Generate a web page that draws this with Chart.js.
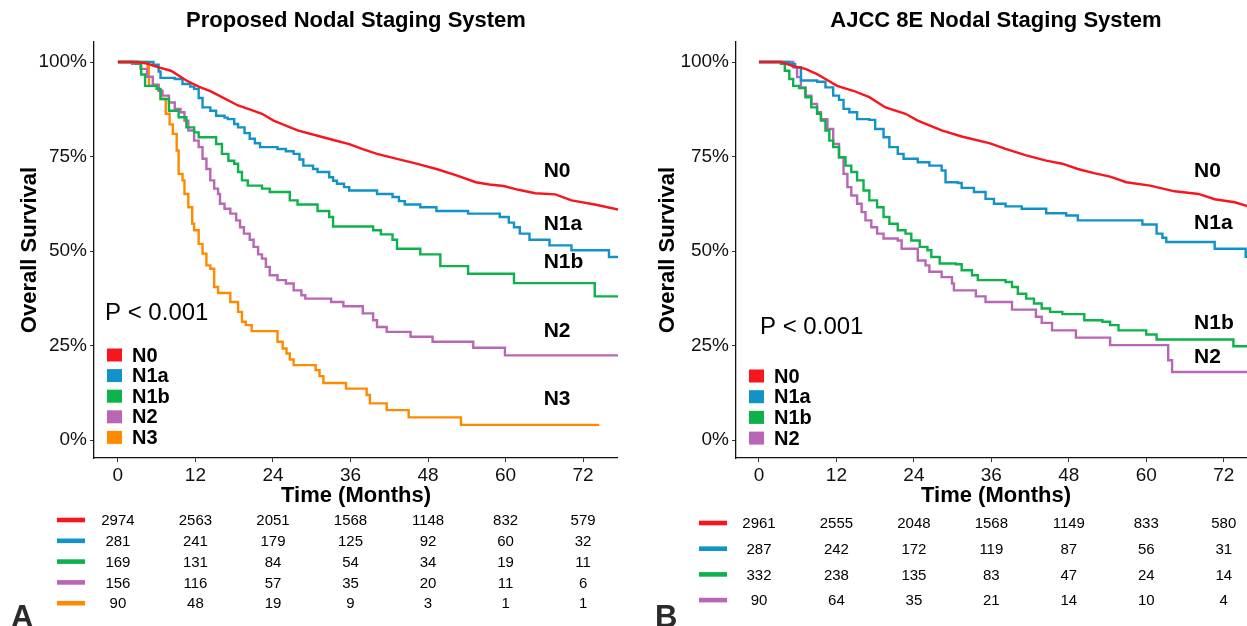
<!DOCTYPE html>
<html><head><meta charset="utf-8">
<script src="https://cdn.jsdelivr.net/npm/chart.js@4.4.1/dist/chart.umd.min.js"></script>
<style>
html,body{margin:0;padding:0;background:#fff;width:1247px;height:626px;overflow:hidden;position:relative;}
canvas{position:absolute;top:0;}
#cA{left:0px}
#cB{left:623px}
</style></head><body>
<canvas id="cA" width="618" height="626"></canvas>
<canvas id="cB" width="633" height="626"></canvas>
<script>
// ---------------- DATA ----------------
const xTicks = [0, 12, 24, 36, 48, 60, 72];
const yTicks = [0, 25, 50, 75, 100];
const groupsA = ['N0', 'N1a', 'N1b', 'N2', 'N3'];
const groupsB = ['N0', 'N1a', 'N1b', 'N2'];
const colors = ['#F8161E', '#1192C9', '#0DB24B', '#B966B5', '#FF8A00'];
const titleA = 'Proposed Nodal Staging System';
const titleB = 'AJCC 8E Nodal Staging System';
const pText = 'P < 0.001';

// Panel A survival curves: [months, survival %]
const A_N0 = [[0,100],[3,100],[4.5,99.6],[6.3,98.6],[8.2,97.7],[10.6,95.1],[12.5,93.5],[14.3,92.3],[16.1,90.7],[18.6,88.5],[20.5,87.4],[22.3,86.3],[24.1,84.5],[26,83.2],[27.8,81.9],[30.9,80.5],[33.5,79.3],[35.8,78.3],[38,76.9],[40.1,75.7],[43.2,74.4],[46.2,73.1],[49.3,71.7],[52.4,70.0],[55.4,68.2],[57.5,67.6],[59.7,67.2],[62,66.2],[64.6,65.3],[67.7,65.0],[70.2,63.4],[73.8,62.3],[77.7,60.9]];
const A_N1a = [[0,100],[5.5,99.3],[6.3,97.5],[6.6,95.8],[8.8,95.5],[10,94.2],[11.2,93.5],[11.8,92.9],[12.5,90.5],[13.1,88.0],[14.3,87.1],[15.2,85.8],[16.5,85.3],[17,84.9],[18,83.6],[18.6,82.7],[19.6,81.2],[20.4,79.7],[21.2,78.5],[22,77.5],[24.7,77.0],[26,76.4],[27.2,75.7],[28.1,74.2],[28.7,72.6],[30.2,71.7],[30.9,70.9],[32.7,69.5],[33.3,68.6],[33.9,67.8],[35,66.9],[35.8,66.0],[40.1,65.1],[42.5,64.3],[43.5,63.2],[44.4,62.3],[46.8,61.6],[49.3,60.6],[54.2,59.9],[59.1,59.0],[60.5,57.5],[61.3,56.3],[62.2,54.6],[63.7,53.0],[66.8,51.5],[70.2,50.2],[76,48.4],[77.7,48.4]];
const A_N1b = [[0,100],[2.8,99.5],[3.6,96.7],[4.2,93.7],[6.0,92.9],[6.6,90.2],[7.9,87.1],[9.4,85.4],[10.6,82.7],[11.8,81.4],[12.5,80.1],[15.2,78.3],[16.1,75.7],[17.1,73.9],[18,73.1],[18.6,70.9],[19.2,68.7],[20.1,67.3],[22.3,66.5],[23.5,65.6],[26.6,63.4],[27.8,62.3],[30.9,60.6],[32.7,59.0],[33.3,56.5],[39.5,55.5],[40.7,54.4],[42.5,53.0],[43.2,50.6],[46.8,49.1],[49.9,46.0],[54.2,44.0],[61.3,41.5],[73.8,38.0],[77.7,38.0]];
const A_N2 = [[0,100],[2.2,99.5],[3.5,98.2],[4.5,96.1],[5.4,94],[6.3,92.4],[6.9,91.1],[7.9,89.3],[8.8,87.6],[9.7,86.7],[10.3,84.5],[10.9,81.9],[11.8,79.2],[12.5,77.5],[13.1,74.4],[13.7,71.7],[14.3,68.7],[14.9,66.5],[15.5,65.1],[15.8,62.5],[16.5,61.2],[17.4,59.9],[18.3,58.1],[18.9,56.3],[19.5,54.6],[20.4,53.0],[21,51.1],[21.7,49.1],[22.3,48.0],[22.9,45.8],[23.5,43.6],[24.7,42.3],[26,41.4],[27.2,39.6],[28.4,38.3],[29,37.4],[33,36.5],[34.9,35.4],[37.9,33.5],[39.5,31.7],[40.1,29.9],[41.6,28.6],[45.3,27.3],[48.7,26.0],[55,24.4],[59.9,22.4],[77.7,22.4]];
const A_N3 = [[0,100],[4.6,98.6],[4.8,93.7],[6.3,92.4],[6.6,90.2],[7.4,86.3],[8.0,83.5],[8.5,81.0],[9.1,76.6],[9.4,70.4],[10,68.7],[10.3,65.1],[10.9,61.6],[11.5,57.2],[11.8,55.5],[12.5,51.9],[13.1,49.3],[13.7,46.2],[14.3,45.3],[14.9,40.5],[15.5,38.9],[17.4,36.5],[18.6,33.9],[19.2,31.3],[19.8,30.4],[20.7,28.8],[24.7,26.0],[25.5,24.2],[26.1,22.9],[26.6,21.3],[27.2,19.8],[30.6,18.5],[31.2,16.9],[31.8,15.1],[35.3,13.6],[38.5,11.9],[39,9.7],[41.6,7.9],[45,6.0],[53.1,4.0],[74.5,4.0]];

// Panel B survival curves
const B_N0 = [[0,100],[3.4,100],[5.3,98.9],[7.2,98.2],[9,96.8],[10.3,95.5],[12.1,93.7],[14.6,92.4],[17.1,90.7],[19.6,88.0],[22.7,86.3],[24.6,84.5],[28.3,81.9],[31.4,80.3],[35.8,78.5],[38.2,77.0],[41.4,75.3],[44.5,73.9],[47,73.1],[49.4,71.7],[51.9,70.6],[54.4,69.7],[56.9,68.2],[60.6,67.3],[64.4,65.8],[68.1,65.1],[70.6,63.7],[73.7,62.9],[77,61.2]];
const B_N1a = [[0,100],[4.7,99.5],[5.6,98.6],[6.5,95.1],[9,94.8],[10.3,93.3],[11.5,91.1],[12.4,90.0],[13.1,87.6],[14,86.7],[15.2,84.9],[17.1,84.7],[18,82.3],[19.3,80.1],[20.2,77.5],[21.5,75.7],[22.4,74.4],[24.6,73.5],[26.4,72.6],[28.3,71.3],[28.9,68.2],[30.8,68.0],[31.4,66.7],[33.3,65.6],[35.1,63.8],[36.4,62.5],[38.2,61.8],[40.7,61.2],[44.5,60.0],[47.6,59.4],[49.4,58.1],[59.4,57.0],[61.6,54.6],[62.5,53.5],[63.1,52.4],[70.6,50.6],[75.4,48.5],[77,48.5]];
const B_N1b = [[0,100],[2.2,100],[3.4,99.5],[4,97.7],[4.7,95.5],[5.3,93.7],[6.2,93.1],[7.2,90.7],[8.1,88.0],[9,86.3],[9.6,84.5],[10.3,81.9],[10.9,79.2],[11.5,77.5],[12.4,74.8],[13.4,72.6],[14.3,70.9],[15.2,68.7],[16.2,66.0],[17.1,63.4],[18.3,61.6],[19.3,59.0],[20.2,57.2],[21.5,55.5],[22.7,54.6],[23.6,52.8],[24.9,51.1],[26.1,50.2],[26.7,48.4],[28,46.7],[30.5,46.5],[31.4,44.9],[33,43.6],[33.9,42.3],[38.2,41.8],[39.2,40.5],[40.1,38.7],[41.4,37.4],[42.6,36.1],[43.8,34.8],[45.1,33.9],[47,33.3],[50.4,31.7],[53.2,31.3],[54.4,30.4],[55.7,29.0],[60,27.9],[61.6,26.6],[73.5,24.8],[77,24.8]];
const B_N2 = [[0,100],[5.3,98.6],[5.9,96.0],[6.5,93.3],[7.2,91.1],[8.1,88.9],[9,86.7],[9.6,84.9],[10.6,82.3],[11.5,78.3],[12.4,74.8],[13.1,70.4],[13.7,66.9],[14.3,64.7],[15.2,62.5],[15.9,60.3],[16.5,58.1],[17.4,56.3],[18.3,54.6],[19.3,53.3],[21.5,52.8],[22.1,50.6],[24.6,47.5],[25.8,46.2],[26.4,44.5],[28.3,43.1],[29.9,41.4],[30.2,39.6],[33.6,38.0],[35.1,36.5],[39.2,34.5],[42.9,32.6],[43.8,31.0],[45.4,29.0],[49.1,27.1],[54.4,25.1],[63.4,21.1],[64,18.0],[77,18.0]];

// Numbers at risk
const riskA_N0 = [2974, 2563, 2051, 1568, 1148, 832, 579];
const riskA_N1a = [281, 241, 179, 125, 92, 60, 32];
const riskA_N1b = [169, 131, 84, 54, 34, 19, 11];
const riskA_N2 = [156, 116, 57, 35, 20, 11, 6];
const riskA_N3 = [90, 48, 19, 9, 3, 1, 1];
const riskB_N0 = [2961, 2555, 2048, 1568, 1149, 833, 580];
const riskB_N1a = [287, 242, 172, 119, 87, 56, 31];
const riskB_N1b = [332, 238, 135, 83, 47, 24, 14];
const riskB_N2 = [90, 64, 35, 21, 14, 10, 4];

// Label anchors (data coords) for curve names
const labelA_T = 65.9, labelA_S = [71.2, 57.2, 47.0, 28.8, 10.8];
const labelB_T = 67.4, labelB_S = [71.2, 57.4, 30.9, 21.8];

// ---------------- RENDER ----------------
const FONT = '"Liberation Sans", Arial, Helvetica, sans-serif';

const annot = {
  id: 'annot',
  afterDraw(chart, args, o) {
    const ctx = chart.ctx, xs = chart.scales.x, ys = chart.scales.y;
    ctx.save();
    ctx.fillStyle = '#000';
    ctx.textBaseline = 'middle';
    // curve labels
    ctx.font = 'bold 21px ' + FONT;
    ctx.textAlign = 'left';
    o.groups.forEach((g, i) => ctx.fillText(g, xs.getPixelForValue(o.labelT), ys.getPixelForValue(o.labelS[i])));
    // p value
    ctx.font = '24px ' + FONT;
    ctx.fillText(pText, o.pX, o.pY);
    // legend
    ctx.font = 'bold 20px ' + FONT;
    o.groups.forEach((g, i) => {
      const y = o.legY0 + i * o.legDy;
      ctx.fillStyle = colors[i];
      ctx.fillRect(o.legX, y - 6.5, 15, 13);
      ctx.fillStyle = '#000';
      ctx.fillText(g, o.legX + 25, y + 1);
    });
    // risk table
    ctx.font = '15px ' + FONT;
    ctx.textAlign = 'center';
    o.risk.forEach((row, i) => {
      const y = o.riskY0 + i * o.riskDy;
      ctx.fillStyle = colors[i];
      ctx.fillRect(o.riskLineX, y - 2.3, 28, 4.6);
      ctx.fillStyle = '#000';
      row.forEach((v, j) => ctx.fillText(String(v), xs.getPixelForValue(xTicks[j]), y + 1));
    });
    // panel letter
    ctx.font = 'bold 31px ' + FONT;
    ctx.textAlign = 'left';
    ctx.textBaseline = 'alphabetic';
    ctx.fillStyle = '#2a2a2a';
    ctx.fillText(o.letter, o.letterX, 627);
    ctx.restore();
  }
};

function makeChart(id, cfg) {
  const datasets = cfg.series.map((pts, i) => ({
    label: cfg.groups[i],
    data: pts.map(p => ({x: p[0], y: p[1]})),
    borderColor: colors[i],
    backgroundColor: colors[i],
    borderWidth: 2.4,
    pointRadius: 0,
    fill: false,
    tension: 0,
    stepped: i === 0 ? false : 'before'
  }));
  return new Chart(document.getElementById(id), {
    type: 'line',
    data: {datasets},
    plugins: [annot],
    options: {
      responsive: false,
      animation: false,
      devicePixelRatio: 1,
      layout: {padding: 0},
      plugins: {
        legend: {display: false},
        tooltip: {enabled: false},
        title: {
          display: true, text: cfg.title, fullSize: false, color: '#000',
          font: {family: FONT, size: 22, weight: 'bold', lineHeight: 1.2},
          padding: {top: 8, bottom: 7.6}
        },
        annot: cfg.annot
      },
      scales: {
        x: {
          type: 'linear', min: cfg.xmin, max: cfg.xmax,
          afterBuildTicks: s => { s.ticks = xTicks.map(v => ({value: v})); },
          afterFit: s => { s.height = 168; },
          ticks: {color: '#111', font: {family: FONT, size: 19}, padding: 2, maxRotation: 0, autoSkip: false},
          grid: {display: true, drawOnChartArea: false, drawTicks: true, tickLength: 4, color: '#333', lineWidth: 1},
          border: {display: true, color: '#111', width: 1.3},
          title: {display: true, text: 'Time (Months)', color: '#000',
                  font: {family: FONT, size: 22, weight: 'bold', lineHeight: 1.2},
                  padding: {top: 0, bottom: 117}}
        },
        y: {
          type: 'linear', min: -4.76, max: 105.3,
          afterBuildTicks: s => { s.ticks = yTicks.map(v => ({value: v})); },
          afterFit: s => { s.width = cfg.yWidth; },
          ticks: {color: '#111', font: {family: FONT, size: 19}, padding: 3, callback: v => v + '%'},
          grid: {display: true, drawOnChartArea: false, drawTicks: true, tickLength: 4, color: '#333', lineWidth: 1},
          border: {display: true, color: '#111', width: 1.3},
          title: {display: true, text: 'Overall Survival', color: '#000',
                  font: {family: FONT, size: 22, weight: 'bold', lineHeight: 1.2},
                  padding: {top: cfg.yTitlePad, bottom: 0}}
        }
      }
    }
  });
}

makeChart('cA', {
  title: titleA, groups: groupsA,
  series: [A_N0, A_N1a, A_N1b, A_N2, A_N3],
  xmin: -3.7, xmax: 77.4, yWidth: 94, yTitlePad: 17,
  annot: {groups: groupsA, labelT: labelA_T, labelS: labelA_S,
          pX: 105, pY: 313, legX: 107, legY0: 355, legDy: 20.6,
          risk: [riskA_N0, riskA_N1a, riskA_N1b, riskA_N2, riskA_N3],
          riskY0: 520, riskDy: 20.8, riskLineX: 57, letter: 'A', letterX: 11}
});
makeChart('cB', {
  title: titleB, groups: groupsB,
  series: [B_N0, B_N1a, B_N1b, B_N2],
  xmin: -3.56, xmax: 77.0, yWidth: 113, yTitlePad: 32,
  annot: {groups: groupsB, labelT: labelB_T, labelS: labelB_S,
          pX: 137, pY: 327, legX: 126, legY0: 376, legDy: 20.7,
          risk: [riskB_N0, riskB_N1a, riskB_N1b, riskB_N2],
          riskY0: 523, riskDy: 25.7, riskLineX: 76, letter: 'B', letterX: 32}
});
</script>
</body></html>
